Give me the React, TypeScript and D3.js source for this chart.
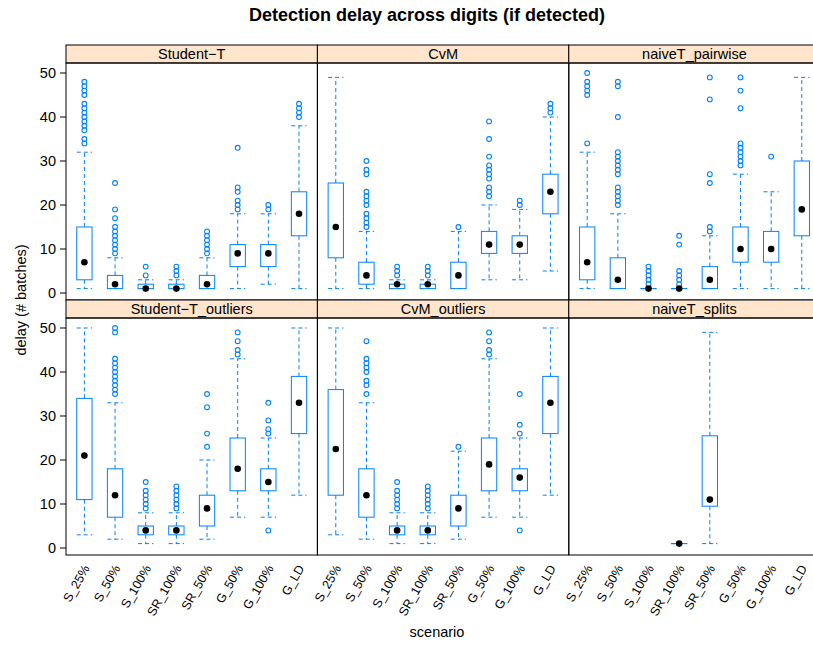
import React from "react";
import * as d3 from "d3";

const scenarios = ["S_25%", "S_50%", "S_100%", "SR_100%", "SR_50%", "G_50%", "G_100%", "G_LD"];
const panelNames = ["Student−T", "CvM", "naiveT_pairwise", "Student−T_outliers", "CvM_outliers", "naiveT_splits"];
const yTicks = [0, 10, 20, 30, 40, 50];

// [lower whisker, Q1, median, Q3, upper whisker]
const studentT_stats = [[1, 3, 7, 15, 32], [1, 1, 2, 4, 8], [1, 1, 1, 2, 3], [1, 1, 1, 2, 3], [1, 1, 2, 4, 8], [1, 6, 9, 11, 18], [2, 6, 9, 11, 18], [1, 13, 18, 23, 38]];
const studentT_out = [[34, 35, 37, 38, 39, 40, 41, 42, 43, 45, 46, 47, 48], [9, 10, 11, 12, 13, 14, 15, 17, 19, 25], [4, 6], [4, 5, 6], [9, 10, 11, 12, 13, 14], [19, 20, 21, 23, 24, 33], [19, 20], [40, 41, 42, 43]];

const cvm_stats = [[1, 8, 15, 25, 49], [1, 2, 4, 7, 14], [1, 1, 2, 2, 3], [1, 1, 2, 2, 3], [1, 1, 4, 7, 14], [3, 9, 11, 14, 20], [3, 9, 11, 13, 19], [5, 18, 23, 27, 40]];
const cvm_out = [[], [15, 16, 17, 18, 20, 21, 22, 23, 27, 28, 30], [4, 5, 6], [4, 5, 6], [15], [22, 23, 24, 26, 27, 28, 29, 31, 35, 39], [20, 21], [41, 42, 43]];

const pairwise_stats = [[1, 3, 7, 15, 32], [1, 1, 3, 8, 18], [1, 1, 1, 1, 1], [1, 1, 1, 1, 1], [1, 1, 3, 6, 13], [1, 7, 10, 15, 27], [1, 7, 10, 14, 23], [1, 13, 19, 30, 49]];
const pairwise_out = [[34, 45, 46, 47, 48, 50], [20, 21, 22, 23, 24, 27, 28, 29, 30, 31, 32, 40, 47, 48], [2, 3, 4, 5, 6], [2, 3, 4, 5, 11, 13], [14, 15, 25, 27, 44, 49], [29, 30, 31, 32, 33, 34, 42, 46, 49], [31], []];

const studentTOut_stats = [[3, 11, 21, 34, 50], [2, 7, 12, 18, 33], [1, 3, 4, 5, 8], [1, 3, 4, 5, 8], [2, 5, 9, 12, 20], [7, 13, 18, 25, 43], [7, 13, 15, 18, 25], [12, 26, 33, 39, 50]];
const studentTOut_out = [[], [35, 36, 37, 38, 39, 40, 41, 42, 43, 49, 50], [9, 10, 11, 12, 13, 15], [9, 10, 11, 12, 13, 14], [23, 26, 32, 35], [44, 45, 47, 49], [4, 26, 27, 29, 33], []];

const cvmOut_stats = [[3, 12, 22.5, 36, 50], [2, 7, 12, 18, 33], [1, 3, 4, 5, 8], [1, 3, 4, 5, 8], [2, 5, 9, 12, 22], [7, 13, 19, 25, 43], [7, 13, 16, 18, 25], [12, 26, 33, 39, 50]];
const cvmOut_out = [[], [35, 37, 38, 40, 41, 42, 43, 47], [9, 10, 11, 12, 13, 15], [9, 10, 11, 12, 13, 14], [23], [44, 45, 47, 49], [4, 26, 28, 35], []];

const splits_stats = [null, null, null, [1, 1, 1, 1, 1], [1, 9.5, 11, 25.5, 49], null, null, null];
const splits_out = [[], [], [], [], [], [], [], []];

const panelStats = [studentT_stats, cvm_stats, pairwise_stats, studentTOut_stats, cvmOut_stats, splits_stats];
const panelOut = [studentT_out, cvm_out, pairwise_out, studentTOut_out, cvmOut_out, splits_out];

const W = 813, H = 646;
const left = 66, panelW = 251.4;
const stripH = 18;
const rowTop = [45, 300];
const panelH = 237;
const BLUE = "#0080ff";
const FONT = "'Liberation Sans', Arial, Helvetica, sans-serif";

export default function App() {
  const x = d3.scaleLinear().domain([0.4, 8.6]).range([0, panelW]);
  const y = d3.scaleLinear().domain([-1.59, 52.27]).range([panelH, 0]);
  const bw = x(1.25) - x(1);

  return (
    <svg width={W} height={H} style={{ position: "absolute", left: 0, top: 0, background: "#fff" }} fontFamily={FONT}>
      <text x={427} y={21} textAnchor="middle" fontSize={18} fontWeight="bold">Detection delay across digits (if detected)</text>
      {panelNames.map((name, p) => {
        const col = p % 3, row = Math.floor(p / 3);
        const px = left + col * panelW;
        const sy = rowTop[row];
        const py = sy + stripH;
        const stats = panelStats[p];
        const outs = panelOut[p];
        return (
          <g key={name}>
            <rect x={px} y={sy} width={panelW} height={stripH} fill="#ffe5cc" stroke="#000" strokeWidth={1} />
            <text x={px + panelW / 2} y={sy + stripH / 2 + 5} textAnchor="middle" fontSize={14.5}>{name}</text>
            <g transform={`translate(${px},${py})`}>
              {stats.map((s, i) => {
                if (!s) return null;
                const cx = x(i + 1);
                const [lo, q1, med, q3, hi] = s;
                return (
                  <g key={i}>
                    <line x1={cx} x2={cx} y1={y(q3)} y2={y(hi)} stroke={BLUE} strokeDasharray="4,3" />
                    <line x1={cx} x2={cx} y1={y(q1)} y2={y(lo)} stroke={BLUE} strokeDasharray="4,3" />
                    <line x1={cx - bw} x2={cx + bw} y1={y(hi)} y2={y(hi)} stroke={BLUE} strokeDasharray="4,3" />
                    <line x1={cx - bw} x2={cx + bw} y1={y(lo)} y2={y(lo)} stroke={BLUE} strokeDasharray="4,3" />
                    <rect x={cx - bw} y={y(q3)} width={2 * bw} height={Math.max(0.01, y(q1) - y(q3))} fill="#fff" stroke={BLUE} strokeWidth={1} />
                    {outs[i].map((o, k) => (
                      <circle key={k} cx={cx} cy={y(o)} r={2.4} fill="none" stroke={BLUE} strokeWidth={1.1} />
                    ))}
                    <circle cx={cx} cy={y(med)} r={3.3} fill="#000" />
                  </g>
                );
              })}
              <rect x={0} y={0} width={panelW} height={panelH} fill="none" stroke="#000" strokeWidth={1} />
              {col === 0 && yTicks.map((t) => (
                <g key={t}>
                  <line x1={-6} x2={0} y1={y(t)} y2={y(t)} stroke="#000" />
                  <text x={-10} y={y(t)} dy="0.35em" textAnchor="end" fontSize={14.5}>{t}</text>
                </g>
              ))}
              {row === 1 && scenarios.map((sc, i) => (
                <text key={sc} transform={`translate(${x(i + 1) + 2},${panelH + 11}) rotate(-60)`} textAnchor="end" dy="0.35em" fontSize={12.5}>{sc}</text>
              ))}
            </g>
          </g>
        );
      })}
      <text transform={`translate(26,300) rotate(-90)`} textAnchor="middle" fontSize={14.5}>delay (# batches)</text>
      <text x={437} y={637} textAnchor="middle" fontSize={14.5}>scenario</text>
    </svg>
  );
}
